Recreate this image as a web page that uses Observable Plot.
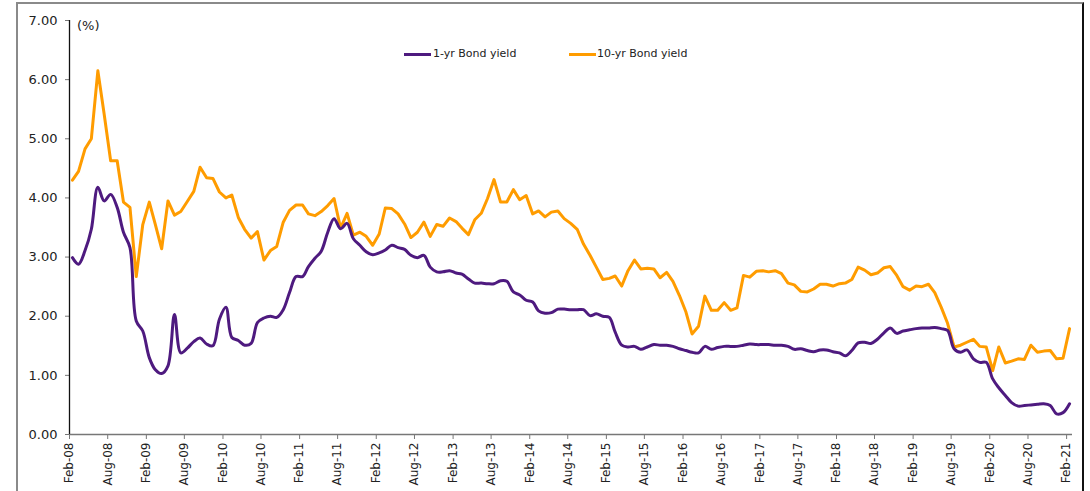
<!DOCTYPE html>
<html>
<head>
<meta charset="utf-8">
<script src="https://cdn.jsdelivr.net/npm/d3@7"></script>
<script src="https://cdn.jsdelivr.net/npm/@observablehq/plot@0.6"></script>
<style>
  html, body { margin: 0; padding: 0; background: #fff; }
  #wrap { position: relative; width: 1090px; height: 491px; overflow: hidden; background: #fff; font-family: "DejaVu Sans", Verdana, sans-serif; color: #222; }
  #frame { position: absolute; left: 16px; top: 2px; width: 1068px; height: 520px; border-top: 2px solid #8a8a8a; border-left: 2px solid #8a8a8a; border-right: 2px solid #111; box-sizing: border-box; }
  #chart { position: absolute; left: 0; top: 0; }
  .leg { position: absolute; font-size: 11px; line-height: 12px; white-space: nowrap; }
  .sw { position: absolute; height: 3px; width: 27px; }
  #unit { position: absolute; left: 77px; top: 18px; font-size: 13px; }
</style>
</head>
<body>
<div id="wrap">
  <div id="frame"></div>
  <div id="chart"></div>
  <div id="unit">(%)</div>
  <div class="sw" style="left:404px;top:53px;background:#4e1a7f"></div>
  <div class="leg" style="left:433px;top:48px">1-yr Bond yield</div>
  <div class="sw" style="left:569px;top:53px;background:#ff9c00"></div>
  <div class="leg" style="left:597px;top:48px">10-yr Bond yield</div>
</div>
<script>
// Monthly observations, Feb-08 .. Feb-21 (157 months)
const startYear = 2008, startMonth = 1; // February
const oneYear = [
  2.99,2.88,3.11,3.47,4.18,3.95,4.06,3.84,3.42,3.16,1.92,1.75,
  1.30,1.10,1.03,1.16,2.03,1.38,1.46,1.57,1.63,1.53,1.50,1.95,
  2.15,1.64,1.59,1.51,1.54,1.89,1.97,2.00,1.98,2.11,2.40,2.67,
  2.67,2.84,2.98,3.10,3.42,3.65,3.48,3.57,3.31,3.20,3.09,3.04,
  3.07,3.12,3.20,3.16,3.13,3.03,2.99,3.03,2.83,2.75,2.75,2.77,
  2.73,2.71,2.63,2.56,2.56,2.55,2.55,2.60,2.59,2.41,2.36,2.27,
  2.24,2.09,2.05,2.06,2.12,2.12,2.11,2.11,2.11,2.01,2.04,2.00,
  1.98,1.73,1.51,1.48,1.49,1.44,1.48,1.52,1.51,1.51,1.49,1.45,
  1.42,1.39,1.38,1.49,1.44,1.47,1.49,1.49,1.49,1.51,1.53,1.52,
  1.52,1.52,1.51,1.51,1.49,1.44,1.45,1.42,1.40,1.43,1.43,1.40,
  1.38,1.33,1.42,1.55,1.56,1.54,1.61,1.72,1.80,1.71,1.75,1.77,
  1.79,1.80,1.80,1.81,1.79,1.76,1.45,1.39,1.43,1.28,1.22,1.22,
  0.94,0.79,0.66,0.54,0.48,0.49,0.50,0.51,0.52,0.49,0.35,0.37,
  0.52
];
const tenYear = [
  4.30,4.45,4.83,5.00,6.15,5.42,4.63,4.63,3.93,3.84,2.67,3.55,
  3.93,3.56,3.14,3.95,3.71,3.77,3.94,4.11,4.52,4.34,4.33,4.10,
  4.00,4.05,3.67,3.47,3.32,3.43,2.95,3.11,3.18,3.59,3.79,3.88,
  3.88,3.73,3.70,3.77,3.87,3.99,3.49,3.74,3.37,3.42,3.35,3.20,
  3.39,3.83,3.82,3.73,3.56,3.33,3.42,3.59,3.35,3.55,3.52,3.66,
  3.60,3.49,3.38,3.63,3.74,3.99,4.31,3.93,3.93,4.14,3.97,4.04,
  3.73,3.78,3.68,3.76,3.78,3.65,3.57,3.47,3.22,3.03,2.83,2.62,
  2.64,2.68,2.51,2.77,2.95,2.80,2.81,2.80,2.65,2.74,2.59,2.35,
  2.07,1.70,1.83,2.34,2.10,2.10,2.23,2.10,2.14,2.69,2.66,2.76,
  2.77,2.75,2.77,2.72,2.56,2.53,2.42,2.41,2.46,2.54,2.54,2.51,
  2.55,2.56,2.62,2.83,2.78,2.70,2.73,2.82,2.84,2.69,2.50,2.44,
  2.51,2.50,2.54,2.40,2.15,1.88,1.48,1.51,1.56,1.61,1.49,1.48,
  1.08,1.48,1.21,1.24,1.28,1.27,1.51,1.39,1.41,1.42,1.28,1.29,
  1.79
];
const seriesNames = ["1-yr Bond yield", "10-yr Bond yield"];
const seriesColors = ["#4e1a7f", "#ff9c00"];
const yTicks = [0, 1, 2, 3, 4, 5, 6, 7];
const tickLabels = d3.range(27).map(k => new Date(Date.UTC(startYear, startMonth + 6 * k, 1)));
const xDomain = [new Date(Date.UTC(2008, 1, 1)), new Date(Date.UTC(2021, 2, 1))];

const dates = oneYear.map((_, i) => new Date(Date.UTC(startYear, startMonth + i, 15)));
const d1 = oneYear.map((v, i) => ({date: dates[i], value: v}));
const d10 = tenYear.map((v, i) => ({date: dates[i], value: v}));

const fmt = d3.utcFormat("%b-%y");

const chart = Plot.plot({
  width: 1090,
  height: 491,
  marginLeft: 69,
  marginRight: 18,
  marginTop: 20,
  marginBottom: 57,
  style: {fontFamily: "DejaVu Sans, Verdana, sans-serif", background: "transparent", color: "#222"},
  x: {type: "utc", domain: xDomain},
  y: {domain: [0, 7]},
  marks: [
    Plot.axisY({ticks: yTicks, tickFormat: d => d.toFixed(2), tickSize: 4, tickPadding: 8, fontSize: 13, stroke: "#777", label: null}),
    Plot.axisX({ticks: tickLabels, tickFormat: fmt, tickRotate: -90, tickSize: 5, tickPadding: 3, fontSize: 12, stroke: "#777", label: null}),
    Plot.ruleY([0], {stroke: "#777", strokeWidth: 1.3}),
    Plot.ruleX([xDomain[0]], {stroke: "#111", strokeWidth: 1.3}),
    Plot.line(d10, {x: "date", y: "value", stroke: seriesColors[1], strokeWidth: 3, strokeLinejoin: "round"}),
    Plot.line(d1, {x: "date", y: "value", stroke: seriesColors[0], strokeWidth: 3, curve: "catmull-rom"})
  ]
});
document.getElementById("chart").appendChild(chart);
</script>
</body>
</html>
